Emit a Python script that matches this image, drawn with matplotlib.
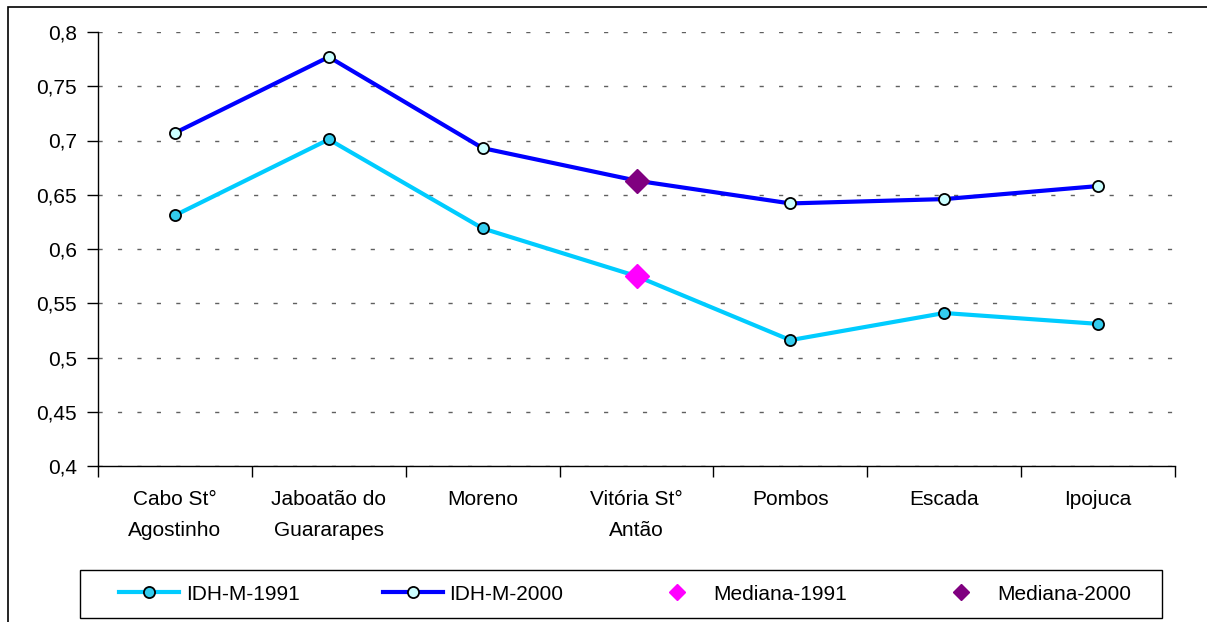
import matplotlib
matplotlib.use("Agg")
import matplotlib.pyplot as plt
from matplotlib.patches import Rectangle
from matplotlib.ticker import FuncFormatter

municipios = ["Cabo St°\nAgostinho", "Jaboatão do\nGuararapes", "Moreno",
              "Vitória St°\nAntão", "Pombos", "Escada", "Ipojuca"]
idh_1991 = [0.631, 0.701, 0.619, 0.575, 0.516, 0.541, 0.531]
idh_2000 = [0.707, 0.777, 0.693, 0.663, 0.642, 0.646, 0.658]
mediana_municipio = "Vitória St°\nAntão"
mediana_1991 = 0.575
mediana_2000 = 0.663
yticks = [0.4, 0.45, 0.5, 0.55, 0.6, 0.65, 0.7, 0.75, 0.8]

plt.rcParams['font.family'] = ['Liberation Sans', 'DejaVu Sans']

fig = plt.figure(figsize=(12.07, 6.22), dpi=100)
ax = fig.add_axes([98/1207, 156/622, 1077/1207, 434/622])

x = list(range(len(municipios)))
im = municipios.index(mediana_municipio)
marks = [i for i in x if i != im]

ax.plot(x, idh_1991, '-o', color='#00CCFF', lw=3, ms=8,
        mfc='#33CCEE', mec='black', mew=1.3, markevery=marks, label='IDH-M-1991')
ax.plot(x, idh_2000, '-o', color='#0000FF', lw=3, ms=8,
        mfc='#CCFFFF', mec='black', mew=1.3, markevery=marks, label='IDH-M-2000')
ax.plot([im], [mediana_1991], 'D', color='#FF00FF', ms=12, ls='none', label='Mediana-1991')
ax.plot([im], [mediana_2000], 'D', color='#800080', ms=12, ls='none', label='Mediana-2000')

ax.set_xlim(-0.5, len(municipios) - 0.5)
ax.set_ylim(0.4, 0.8)
ax.set_yticks(yticks)
ax.yaxis.set_major_formatter(FuncFormatter(lambda v, p: f"{v:g}".replace('.', ',')))
ax.tick_params(axis='y', length=8, width=1, pad=7, labelsize=15)
ax.set_xticks([i - 0.5 for i in range(len(municipios) + 1)])
ax.set_xticklabels([])
ax.set_xticks(x, minor=True)
ax.set_xticklabels(municipios, minor=True, fontsize=15, linespacing=1.8)
ax.tick_params(axis='x', which='major', length=8, width=1, direction='out')
ax.tick_params(axis='x', which='minor', length=0, pad=17)

ax.grid(axis='y', color='#606060', ls=(0, (3, 11)), lw=1)
for s in ['top', 'right']:
    ax.spines[s].set_visible(False)
for s in ['left', 'bottom']:
    ax.spines[s].set_linewidth(1)

# legend content spread over the box, box drawn separately
leg = fig.legend(loc='center left', bbox_to_anchor=(119/1207, 4/622, 1012/1207, 48/622),
                 mode='expand', ncol=4, fontsize=15, handlelength=2.9, handletextpad=0.3,
                 frameon=False, borderaxespad=0, borderpad=0)
for h in leg.legend_handles:
    h.set_markersize(8 if h.get_marker() == 'o' else 8.5)
fig.patches.append(Rectangle((80/1207, 4/622), 1082/1207, 48/622, transform=fig.transFigure,
                             fill=False, edgecolor='black', lw=1))

fig.patches.append(Rectangle((8/1207, -0.05), 1.1, (615/622) + 0.05, transform=fig.transFigure,
                             fill=False, edgecolor='black', lw=1.2, clip_on=False))

fig.savefig("out.png", dpi=100)
